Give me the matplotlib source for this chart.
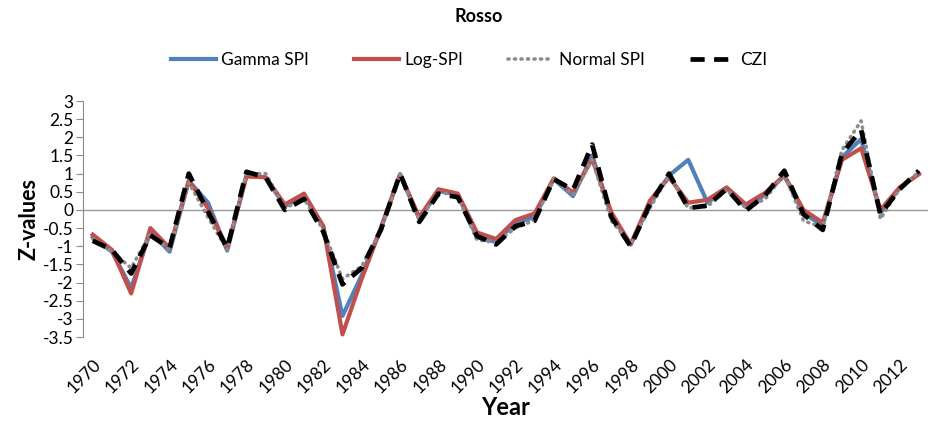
import numpy as np
import matplotlib
matplotlib.use("Agg")
import matplotlib.pyplot as plt

plt.rcParams['font.family'] = ['Lato', 'DejaVu Sans']

years = list(range(1970, 2014))

gamma_spi = [-0.75, -1.15, -2.15, -0.6, -1.15, 0.8, 0.2, -1.12, 0.95, 0.9,
             0.1, 0.4, -0.45, -2.92, -1.8, -0.5, 0.98, -0.25, 0.52, 0.42,
             -0.75, -0.88, -0.35, -0.2, 0.85, 0.38, 1.5, -0.15, -0.95, 0.15,
             0.95, 1.38, 0.2, 0.6, 0.08, 0.42, 0.95, -0.1, -0.42, 1.45,
             1.95, -0.08, 0.6, 1.0]
log_spi = [-0.68, -1.1, -2.3, -0.5, -1.05, 0.8, 0.05, -1.05, 0.92, 0.9,
           0.15, 0.45, -0.45, -3.43, -1.9, -0.5, 0.98, -0.2, 0.57, 0.45,
           -0.62, -0.8, -0.28, -0.1, 0.87, 0.48, 1.4, -0.07, -0.95, 0.25,
           0.9, 0.2, 0.28, 0.62, 0.15, 0.47, 0.95, 0.0, -0.35, 1.38,
           1.7, 0.0, 0.62, 0.98]
normal_spi = [-0.8, -1.15, -1.6, -0.65, -1.1, 0.75, -0.2, -1.1, 1.0, 1.0,
              0.05, 0.3, -0.55, -1.9, -1.55, -0.55, 0.98, -0.28, 0.5, 0.38,
              -0.82, -0.9, -0.5, -0.28, 0.85, 0.42, 1.38, -0.3, -0.95, 0.05,
              0.95, 0.05, 0.1, 0.55, 0.05, 0.3, 0.98, -0.3, -0.48, 1.65,
              2.45, -0.25, 0.58, 1.05]
czi = [-0.85, -1.1, -1.75, -0.7, -1.05, 1.0, -0.05, -1.05, 1.05, 0.9,
       0.0, 0.3, -0.6, -2.05, -1.6, -0.55, 1.0, -0.33, 0.45, 0.35,
       -0.72, -0.95, -0.45, -0.3, 0.85, 0.55, 1.8, -0.2, -1.0, 0.15,
       1.0, 0.05, 0.12, 0.58, -0.02, 0.4, 1.08, -0.12, -0.55, 1.55,
       2.2, -0.12, 0.57, 1.08]

yticks = [3, 2.5, 2, 1.5, 1, 0.5, 0, -0.5, -1, -1.5, -2, -2.5, -3, -3.5]

fig = plt.figure(figsize=(9.34, 4.28), dpi=100)
ax = fig.add_axes([0.089, 0.2126, 0.905, 0.5514])

x = np.arange(len(years))
ax.plot(x, gamma_spi, color="#4F81BD", lw=3.0, label="Gamma SPI", solid_joinstyle="round")
ax.plot(x, log_spi, color="#C0504D", lw=3.0, label="Log-SPI", solid_joinstyle="round")
ax.plot(x, normal_spi, color="#8C8C8C", lw=2.6, linestyle=(0, (0.3, 1.5)),
        dash_capstyle="round", label="Normal SPI")
ax.plot(x, czi, color="black", lw=3.4, linestyle=(0, (3.0, 2.0)), label="CZI")

ax.axhline(0, color="#999999", lw=1.0, zorder=0)

ax.set_xlim(-0.5, len(years) - 0.5)
ax.set_ylim(-3.5, 3)
ax.set_yticks(yticks)
ax.set_yticklabels([f"{v:g}" for v in yticks], fontsize=12.5)
ax.set_xticks(x[::2])
ax.set_xticklabels([str(y) for y in years[::2]], rotation=45, ha="right",
                   rotation_mode="anchor", fontsize=12.5)
ax.tick_params(axis="x", length=0, pad=14)
ax.tick_params(axis="y", length=5, color="#8C8C8C", pad=2)

for s in ["top", "right", "bottom"]:
    ax.spines[s].set_visible(False)
ax.spines["left"].set_color("#8C8C8C")

ax.set_ylabel("Z-values", fontsize=15.5, fontweight="bold", labelpad=2)
ax.set_xlabel("Year", fontsize=17, fontweight="bold", labelpad=0)

fig.text(0.512, 0.962, "Rosso", ha="center", va="center", fontsize=13, fontweight="bold")
fig.legend(loc="center", bbox_to_anchor=(0.502, 0.86), ncol=4, frameon=False,
           fontsize=12.5, handlelength=2.6, columnspacing=2.6, handletextpad=0.3)

fig.savefig("out.png", dpi=100)
